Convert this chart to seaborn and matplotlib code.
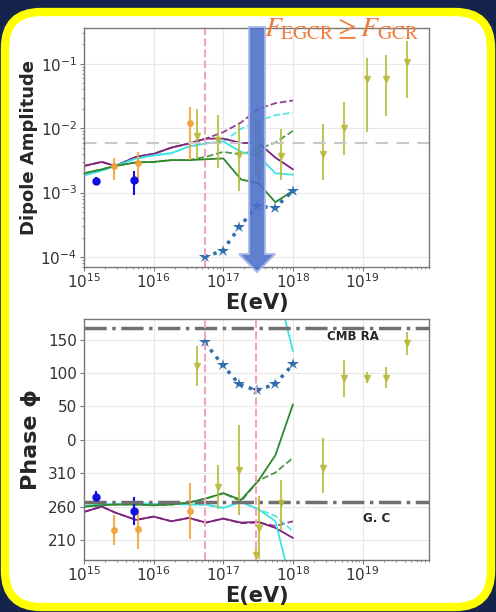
import numpy as np
import matplotlib
matplotlib.use('Agg')
import matplotlib.pyplot as plt
import seaborn as sns
from matplotlib.patches import FancyBboxPatch, FancyArrow

# energy grid of the model curves (eV)
model_E = [1.0e15, 1.8e15, 2.8e15, 5.6e15, 1.0e16, 1.8e16, 3.2e16, 5.6e16,
           1.0e17, 1.8e17, 3.2e17, 5.6e17, 1.0e18]

# dipole amplitude of the models
purple_amp = [2.6e-3, 3.0e-3, 2.6e-3, 3.6e-3, 4.0e-3, 5.0e-3, 5.8e-3, 6.9e-3,
              6.9e-3, 5.9e-3, 5.9e-3, 3.5e-3, 2.3e-3]
purple_amp_d = [2.6e-3, 3.0e-3, 2.6e-3, 3.6e-3, 4.0e-3, 5.0e-3, 5.8e-3, 6.9e-3,
                8.7e-3, 1.23e-2, 2.0e-2, 2.45e-2, 2.7e-2]
cyan_amp = [1.86e-3, 2.2e-3, 2.6e-3, 3.4e-3, 3.8e-3, 4.1e-3, 5.2e-3, 5.8e-3,
            6.2e-3, 4.3e-3, 3.7e-3, 2.0e-3, 1.9e-3]
cyan_amp_d = [1.86e-3, 2.2e-3, 2.6e-3, 3.4e-3, 3.8e-3, 4.1e-3, 5.2e-3, 5.8e-3,
              6.2e-3, 9.8e-3, 1.3e-2, 1.6e-2, 1.75e-2]
green_amp = [2.0e-3, 2.3e-3, 2.6e-3, 2.95e-3, 3.0e-3, 3.2e-3, 3.2e-3, 3.3e-3,
             3.4e-3, 1.6e-3, 1.4e-3, 7.1e-4, 1.07e-3]
green_amp_d = [2.0e-3, 2.3e-3, 2.6e-3, 2.95e-3, 3.0e-3, 3.2e-3, 3.2e-3, 3.6e-3,
               4.3e-3, 3.9e-3, 4.8e-3, 6.0e-3, 9.1e-3]

# dipole phase (RA, deg) of the models
purple_ra = [252, 260, 251, 240, 245, 238, 243, 236, 242, 236, 237, 228, 213]
purple_ra_d = [252, 260, 251, 240, 245, 238, 243, 236, 242, 235, 236, 231, 238]
cyan_ra = [261, 263, 264, 265, 264, 264, 263, 263, 258, 267, 256, 238, 133]
cyan_ra_d = [261, 263, 264, 265, 264, 264, 263, 263, 258, 267, 256, 246, 223]
green_ra = [260, 262, 263, 263, 262, 263, 266, 272, 280, 270, 299, 337, 53]
green_ra_d = [260, 262, 263, 263, 262, 263, 266, 272, 280, 268, 299, 311, 333]

# stars (dotted)
star_E = [5.4e16, 9.8e16, 1.7e17, 3.0e17, 5.5e17, 1.0e18]
star_amp = [1.0e-4, 1.26e-4, 2.9e-4, 6.2e-4, 5.8e-4, 1.07e-3]
star_ra = [146, 112, 83, 74, 83, 113]

# blue measurements
blue_E = [1.5e15, 5.3e15]
blue_amp = [1.5e-3, 1.6e-3]
blue_amp_lo = [1.3e-3, 9.3e-4]
blue_amp_hi = [1.75e-3, 2.2e-3]
blue_ra = [275, 253]
blue_ra_err = [9, 21]

# orange measurements
orange_E = [2.7e15, 6.0e15, 3.3e16]
orange_amp = [2.6e-3, 2.9e-3, 1.2e-2]
orange_amp_lo = [1.6e-3, 1.4e-3, 3.2e-3]
orange_amp_hi = [3.5e-3, 4.3e-3, 2.1e-2]
orange_ra = [225, 227, 254]
orange_ra_err = [22, 30, 42]

# olive measurements
olive_E = [4.2e16, 8.3e16, 1.7e17, 2.9e17, 3.3e17, 6.7e17, 2.7e18, 5.4e18,
           1.17e19, 2.2e19, 4.4e19]
olive_amp = [7.7e-3, 6.5e-3, 3.9e-3, 4.5e-3, 4.2e-3, 3.7e-3, 4.0e-3, 1.02e-2,
             5.75e-2, 5.9e-2, 0.107]
olive_amp_lo = [3.3e-3, 2.45e-3, 1.07e-3, 1.9e-3, 1.6e-3, 1.55e-3, 1.6e-3, 3.8e-3,
                8.9e-3, 1.55e-2, 3.0e-2]
olive_amp_hi = [2.0e-2, 1.6e-2, 1.17e-2, 1.5e-2, 1.3e-2, 9.8e-3, 1.15e-2, 2.6e-2,
                0.123, 0.138, 0.229]
olive_ra = [110, 290, 315, 188, 228, 265, 318, 92, 93, 93, 145]
olive_ra_lo = [30, 33, 67, 66, 47, 40, 38, 28, 8, 16, 18]
olive_ra_hi = [30, 33, 67, 14, 48, 35, 44, 28, 9, 16, 17]

# reference marks
amp_ref = 6.0e-3
E_cut1 = 5.5e16
E_cut2 = 2.9e17
cmb_ra = 168
gc_ra = 266.4


def wrap(ra):
    # RA in [0, 360) -> axis value in (-180, 180]
    return (np.asarray(ra, dtype=float) + 180) % 360 - 180


def to_axis(ra):
    # same, but unwrapped along a curve so it crosses the +-180 edge smoothly
    return np.rad2deg(np.unwrap(np.deg2rad(wrap(ra))))


sns.set_theme(style='whitegrid')
plt.rcParams['font.family'] = ['DejaVu Sans']

fig = plt.figure(figsize=(4.96, 6.12), dpi=100, facecolor='#15244d')

# framed white panel
bg = fig.add_axes([0, 0, 1, 1], zorder=-5)
bg.set_xlim(0, 496)
bg.set_ylim(0, 612)
bg.axis('off')
bg.add_patch(FancyBboxPatch((5, 5), 486, 595, boxstyle='round,pad=0,rounding_size=36',
                            facecolor='white', edgecolor='#ffff00', lw=6))

ax1 = fig.add_axes([0.1694, 0.5637, 0.6956, 0.3905])
ax2 = fig.add_axes([0.1694, 0.0850, 0.6956, 0.3938])

c_purple = '#7d237d'
c_cyan = '#3fe3e3'
c_green = '#2f872f'
c_star = '#2f6fae'
c_orange = '#f2a035'
c_olive = '#b7ba3a'

# --- amplitude panel ---
for amp, col, ls in [(purple_amp_d, c_purple, '--'), (cyan_amp_d, c_cyan, '--'),
                     (green_amp_d, c_green, '--'), (purple_amp, c_purple, '-'),
                     (cyan_amp, c_cyan, '-'), (green_amp, c_green, '-')]:
    sns.lineplot(x=model_E, y=amp, ax=ax1, color=col, linestyle=ls, lw=1.3,
                 alpha=0.85 if ls == '--' else 1)

ax1.errorbar(olive_E, olive_amp,
             yerr=[np.subtract(olive_amp, olive_amp_lo), np.subtract(olive_amp_hi, olive_amp)],
             fmt='v', color=c_olive, ms=4, elinewidth=1.5, alpha=0.85)
ax1.errorbar(orange_E, orange_amp,
             yerr=[np.subtract(orange_amp, orange_amp_lo), np.subtract(orange_amp_hi, orange_amp)],
             fmt='o', color=c_orange, ms=4, elinewidth=1.5, alpha=0.85)
ax1.errorbar(blue_E, blue_amp,
             yerr=[np.subtract(blue_amp, blue_amp_lo), np.subtract(blue_amp_hi, blue_amp)],
             fmt='o', color='#1010e0', ms=5, elinewidth=1.5)
sns.lineplot(x=star_E, y=star_amp, ax=ax1, color=c_star, linestyle=':', lw=2.5,
             marker='*', markersize=9, markeredgewidth=0)

ax1.axhline(amp_ref, color='#c8c8c8', ls='--', lw=1.5, dashes=(6, 4))
ax1.axvline(E_cut1, color='#f4a6b8', ls='--', lw=1.5)

ax1.set_xscale('log')
ax1.set_yscale('log')
ax1.set_xlim(1e15, 9e19)
ax1.set_ylim(7e-5, 0.36)
ax1.set_xlabel('E(eV)', fontsize=15, fontweight='bold', labelpad=1)
ax1.set_ylabel('Dipole Amplitude', fontsize=13, fontweight='bold')
ax1.yaxis.set_label_coords(-0.133, 0.5)

# --- phase panel ---
for ra, col, ls in [(purple_ra_d, c_purple, '--'), (cyan_ra_d, c_cyan, '--'),
                    (green_ra_d, c_green, '--'), (purple_ra, c_purple, '-'),
                    (cyan_ra, c_cyan, '-'), (green_ra, c_green, '-')]:
    v = to_axis(ra)
    for shift in (-360, 0, 360):
        sns.lineplot(x=model_E, y=v + shift, ax=ax2, color=col, linestyle=ls, lw=1.3,
                     alpha=0.85 if ls == '--' else 1)

ax2.errorbar(olive_E, wrap(olive_ra), yerr=[olive_ra_lo, olive_ra_hi], fmt='v',
             color=c_olive, ms=4, elinewidth=1.5, alpha=0.85)
ax2.errorbar(orange_E, wrap(orange_ra), yerr=orange_ra_err,
             fmt='o', color=c_orange, ms=4, elinewidth=1.5, alpha=0.85)
ax2.errorbar(blue_E, wrap(blue_ra), yerr=blue_ra_err,
             fmt='o', color='#1010e0', ms=5, elinewidth=1.5)
sns.lineplot(x=star_E, y=to_axis(star_ra), ax=ax2, color=c_star, linestyle=':', lw=2.5,
             marker='*', markersize=9, markeredgewidth=0)

ax2.axhline(cmb_ra, color='#707070', ls='-.', lw=2.5)
ax2.axhline(wrap(gc_ra), color='#707070', ls='-.', lw=2.5)
ax2.axvline(E_cut1, color='#f4a6b8', ls='--', lw=1.5)
ax2.axvline(E_cut2, color='#f4a6b8', ls='--', lw=1.5)
ax2.text(3.1e18, 154, 'CMB RA', fontsize=8.5, fontweight='bold', va='center')
ax2.text(1.0e19, -118, 'G. C', fontsize=8.5, fontweight='bold', va='center')

ax2.set_xscale('log')
ax2.set_xlim(1e15, 9e19)
ax2.set_ylim(-180, 181)
ax2.set_yticks([-150, -100, -50, 0, 50, 100, 150])
ax2.set_yticklabels(['210', '260', '310', '0', '50', '100', '150'])
ax2.set_xlabel('E(eV)', fontsize=15, fontweight='bold', labelpad=1)
ax2.set_ylabel('Phase ϕ', fontsize=16, fontweight='bold')
ax2.yaxis.set_label_coords(-0.125, 0.5)

for ax in (ax1, ax2):
    ax.set_facecolor('white')
    ax.grid(True, which='major', color='#e8e8e8', lw=0.8)
    ax.grid(False, which='minor')
    for sp in ax.spines.values():
        sp.set_color('#777777')
        sp.set_linewidth(1.0)
    ax.tick_params(which='both', bottom=True, left=True, direction='out',
                   colors='#777777', labelcolor='#333333', labelsize=11)
    ax.tick_params(which='major', length=3, width=0.8)
    ax.tick_params(which='minor', length=1.5, width=0.6)
    ax.tick_params(axis='x', which='both', pad=1)
    ax.tick_params(axis='y', which='both', pad=2)

# arrow and annotation on top
over = fig.add_axes([0, 0, 1, 1], zorder=10)
over.set_xlim(0, 496)
over.set_ylim(0, 612)
over.axis('off')
over.patch.set_alpha(0)
over.add_patch(FancyArrow(257, 585, 0, -245, width=16, head_width=36, head_length=18,
                          length_includes_head=True, facecolor='#4a6fc9',
                          edgecolor='#a8bbe8', lw=1.5, alpha=0.88))
over.text(264, 576, r'$F_{\rm EGCR} \geq F_{\rm GCR}$', fontsize=20, color='#f07c3c',
          math_fontfamily='stix', va='baseline')

fig.savefig('out.png', dpi=100, facecolor=fig.get_facecolor())
